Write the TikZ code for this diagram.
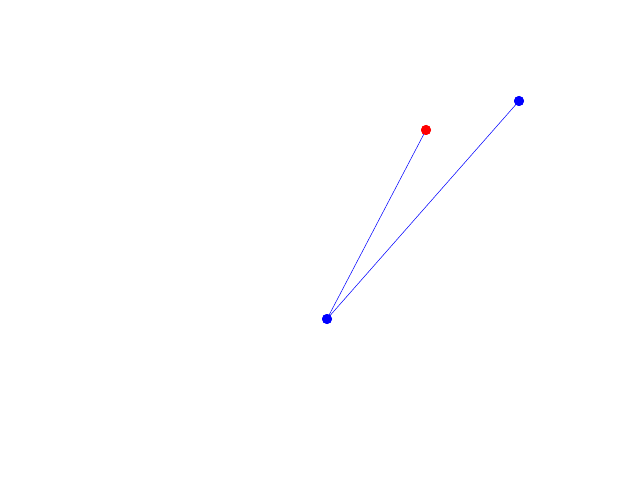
\documentclass[tikz,border=0pt]{standalone}

\begin{document}
\begin{tikzpicture}[
  x=0.03cm,
  y=-0.03cm,
  pivot/.style={circle,fill=blue,inner sep=0pt,minimum size=0.3cm},
  target/.style={circle,fill=red,inner sep=0pt,minimum size=0.3cm},
  arm/.style={draw=blue,line width=0.45pt}
]
  \useasboundingbox (0,0) rectangle (640,480);

  % Base point and the two end points.
  \node[pivot] (base) at (327,319) {};
  \node[target] (goal) at (426,130) {};
  \node[pivot] (tip) at (519,101) {};

  \draw[arm] (base.center) -- (goal.center);
  \draw[arm] (base.center) -- (tip.center);

  % Redraw dots above the lines.
  \node[pivot] at (base) {};
  \node[target] at (goal) {};
  \node[pivot] at (tip) {};
\end{tikzpicture}
\end{document}
